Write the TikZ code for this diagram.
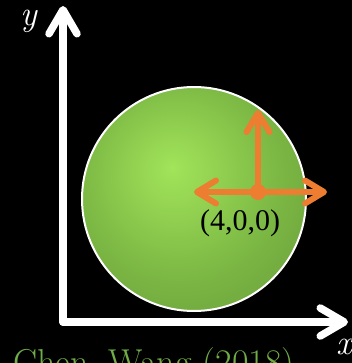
\documentclass[tikz,border=0pt]{standalone}
\usepackage{fontspec}
\newfontfamily\timesfont{Liberation Serif}
\usetikzlibrary{arrows.meta,positioning}
\definecolor{vecorange}{RGB}{237,125,49}
\definecolor{capgreen}{RGB}{112,173,71}
\definecolor{sphlight}{RGB}{162,228,90}
\definecolor{sphmid}{RGB}{124,184,68}
\definecolor{sphdark}{RGB}{84,126,46}
\pgfdeclareradialshading{greensphere}{\pgfpoint{-5bp}{7bp}}{%
  color(0bp)=(sphlight); color(22bp)=(sphmid); color(58bp)=(sphdark); color(70bp)=(sphdark)}
\tikzset{
  axis/.style={white, line width=7.5bp, line cap=round,
    -{Straight Barb[length=24bp,width=28bp,round]}},
  vec/.style={vecorange, line width=6bp, line cap=round,
    -{Straight Barb[length=19bp,width=23bp,round]}},
  axlabel/.style={text=white, font=\fontsize{35bp}{38bp}\selectfont\itshape},
}

\begin{document}
\begin{tikzpicture}[x=1bp,y=-1bp]
\fill[black] (0,0) rectangle (352,363);
\useasboundingbox (0,0) rectangle (352,363);
\clip (0,0) rectangle (352,363);

% sphere
\node[circle, inner sep=0, minimum size=224bp, shading=greensphere,
      draw=white, line width=2bp] (sphere) at (194,199) {};

% axes
\coordinate (origin) at (63,322);
\coordinate (ytip) at (63,6);
\coordinate (xtip) at (348,322);
\draw[axis] (origin) -- (ytip);
\draw[axis] (origin) -- (xtip);
\node[axlabel] (ylab) at (29,21) {y};
\node[axlabel] (xlab) at (344,347) {x};

% point and directions
\node[circle, fill=vecorange, inner sep=0, minimum size=16bp] (pt) at (258,192) {};
\coordinate (up) at (258,110);
\coordinate (left) at (194,192);
\coordinate (right) at (327,192);
\foreach \d in {up,left,right} { \draw[vec] (pt.center) -- (\d); }
\node[font=\timesfont\fontsize{30bp}{32bp}\selectfont] (lbl) at (240,223) {(4,0,0)};

\node[anchor=base west, text=capgreen, font=\fontsize{36bp}{38bp}\selectfont] (cite) at (10,374) {Chen, Wang (2018)};
\end{tikzpicture}
\end{document}
